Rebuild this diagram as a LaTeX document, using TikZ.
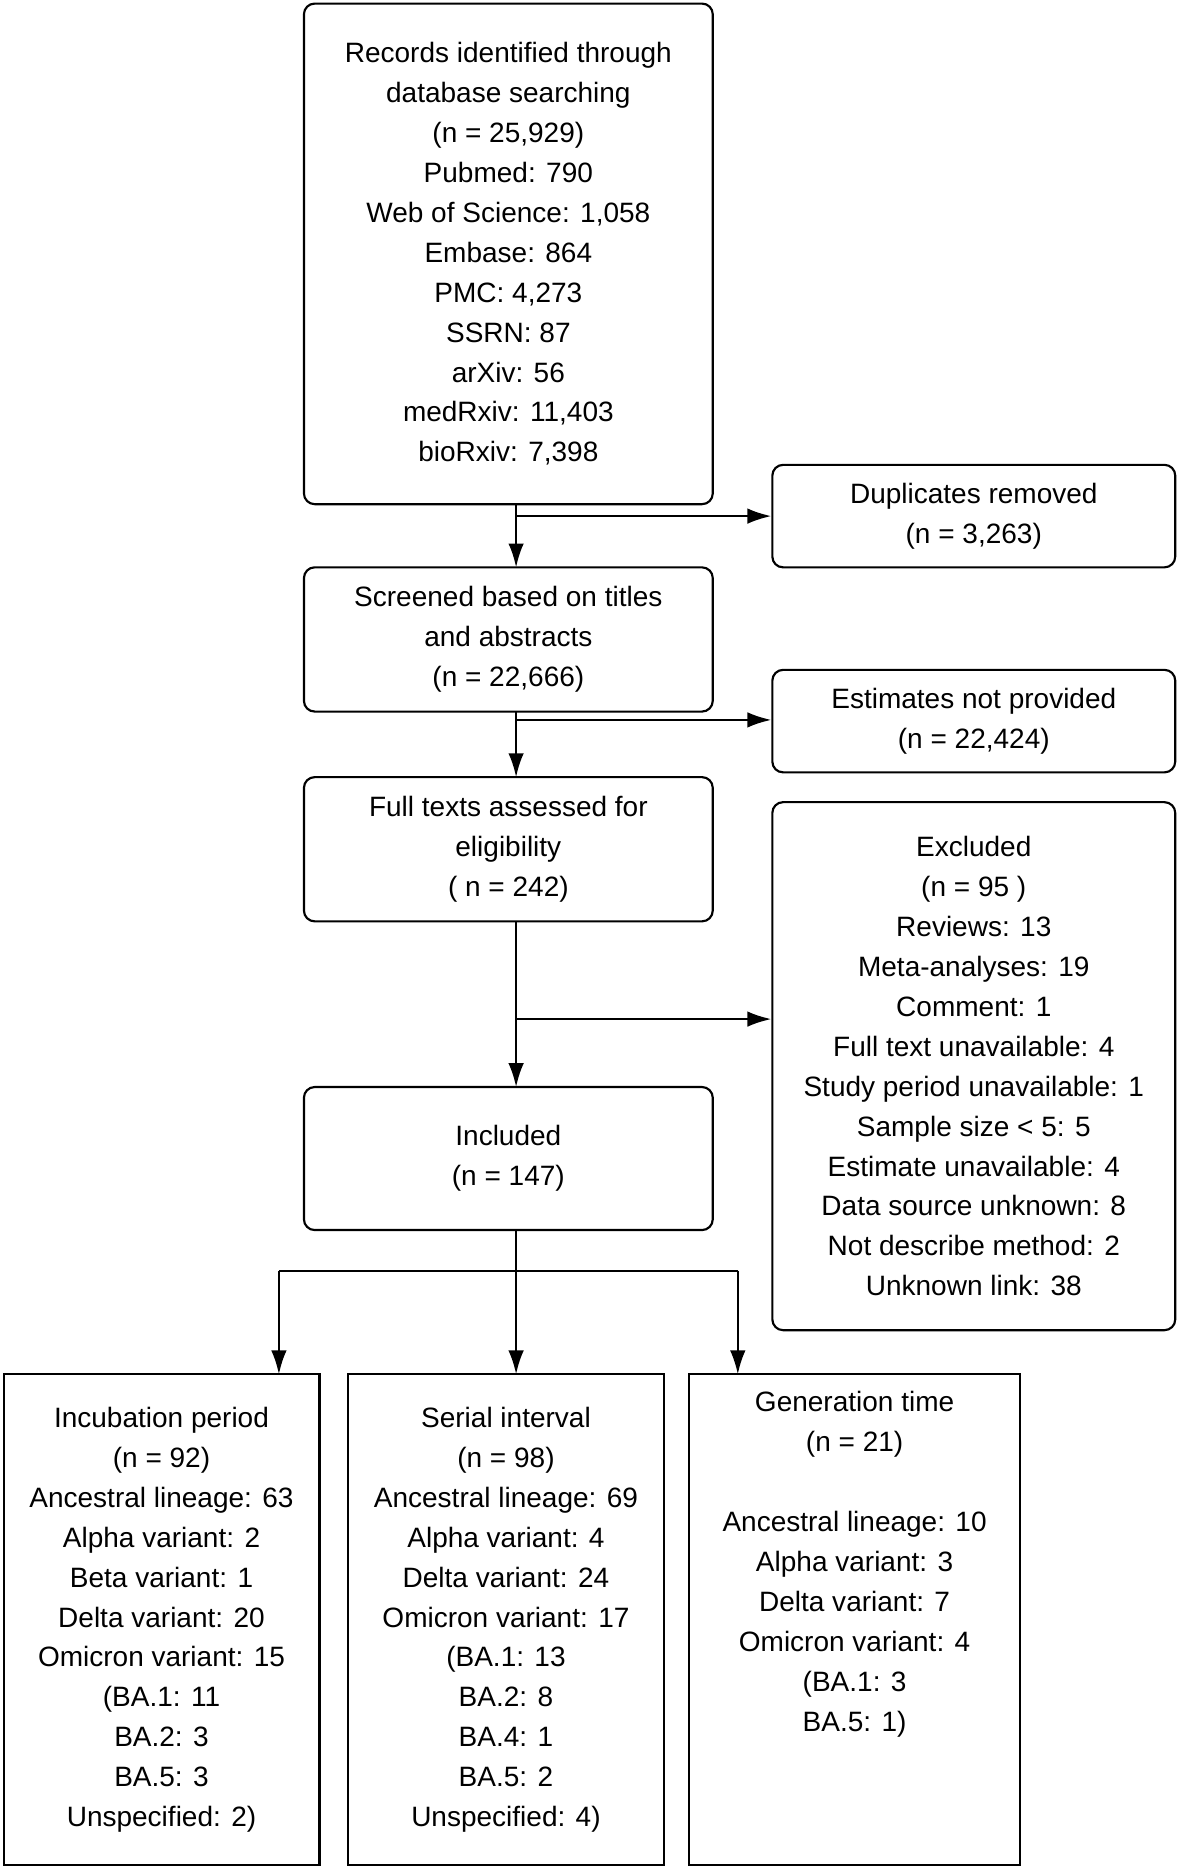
\documentclass[tikz,border=0pt]{standalone}
\usepackage{fontspec}
\setmainfont{Liberation Sans}
\usetikzlibrary{arrows.meta}
\begin{document}
\fontsize{23.5}{33.5}\selectfont
\begin{tikzpicture}[x=1pt,y=-1pt,
  box/.style={draw,line width=1.8pt,rounded corners=9pt,align=center,inner sep=0pt},
  sbox/.style={draw,line width=1.8pt,align=center,inner sep=0pt},
  ln/.style={line width=1.8pt},
  arr/.style={ln,-{Latex[length=20pt,width=13pt]}}]
\useasboundingbox (0,0) rectangle (990,1570.6);
\node[box,minimum width=343,minimum height=420] (rec) at (426.5,213) {Records identified through\\database searching\\(n = 25,929)\\Pubmed: 790\\Web of Science: 1,058\\Embase: 864\\PMC: 4,273\\SSRN: 87\\arXiv: 56\\medRxiv: 11,403\\bioRxiv: 7,398};
\node[box,minimum width=338,minimum height=86] (dup) at (817,433) {Duplicates removed\\(n = 3,263)};
\node[box,minimum width=343,minimum height=121] (scr) at (426.5,536.5) {Screened based on titles\\and abstracts\\(n = 22,666)};
\node[box,minimum width=338,minimum height=86] (est) at (817,605) {Estimates not provided\\(n = 22,424)};
\node[box,minimum width=343,minimum height=121] (full) at (426.5,712.5) {Full texts assessed for\\eligibility\\( n = 242)};
\node[box,minimum width=338,minimum height=443] (exc) at (817,894.5) {\raisebox{9pt}{\parbox{330pt}{\centering Excluded\\(n = 95 )\\Reviews: 13\\Meta-analyses: 19\\Comment: 1\\Full text unavailable: 4\\Study period unavailable: 1\\Sample size < 5: 5\\Estimate unavailable: 4\\Data source unknown: 8\\Not describe method: 2\\Unknown link: 38}}};
\node[box,minimum width=343,minimum height=120] (inc) at (426.5,972) {Included\\(n = 147)};
\node[sbox,minimum width=265,minimum height=412] (incub) at (135.5,1359) {Incubation period\\(n = 92)\\Ancestral lineage: 63\\Alpha variant: 2\\Beta variant: 1\\Delta variant: 20\\Omicron variant: 15\\(BA.1: 11\\BA.2: 3\\BA.5: 3\\Unspecified: 2)};
\node[sbox,minimum width=265,minimum height=412] (ser) at (424.5,1359) {Serial interval\\(n = 98)\\Ancestral lineage: 69\\Alpha variant: 4\\Delta variant: 24\\Omicron variant: 17\\(BA.1: 13\\BA.2: 8\\BA.4: 1\\BA.5: 2\\Unspecified: 4)};
\node[sbox,minimum width=278,minimum height=412,
  label={[anchor=north,align=center,yshift=-15pt,inner sep=0pt]north:Generation time\\(n = 21)\\ \\Ancestral lineage: 10\\Alpha variant: 3\\Delta variant: 7\\Omicron variant: 4\\(BA.1: 3\\BA.5: 1)}] (gen) at (717,1359) {};
\coordinate (j1) at (433,433);
\coordinate (j2) at (433,604);
\coordinate (j3) at (433,855);
\coordinate (j4) at (433,1066);
\coordinate (l4) at (234,1066);
\coordinate (r4) at (619,1066);
\draw[arr] (433,423) -- (433,476);
\draw[arr] (j1) -- (dup.west|-j1);
\draw[arr] (433,597) -- (433,652);
\draw[arr] (j2) -- (est.west|-j2);
\draw[arr] (433,773) -- (433,912);
\draw[arr] (j3) -- (exc.west|-j3);
\draw[ln] (433,1032) -- (j4);
\draw[ln] (l4) -- (r4);
\draw[arr] (j4) -- (433,1153);
\draw[arr] (l4) -- (234,1153);
\draw[arr] (r4) -- (619,1153);
\end{tikzpicture}
\end{document}
